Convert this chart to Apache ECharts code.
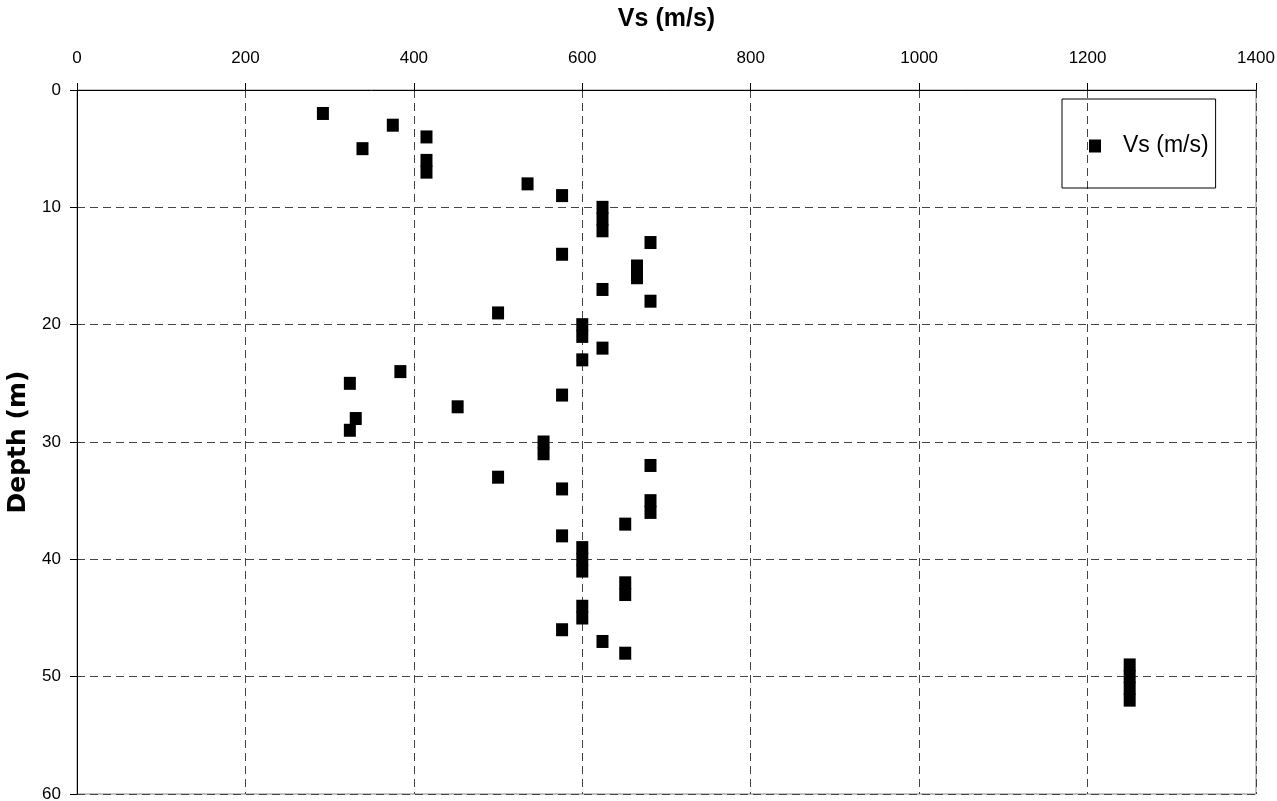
<!DOCTYPE html>
<html>
<head>
<meta charset="utf-8">
<title>Vs profile</title>
<script src="https://cdn.jsdelivr.net/npm/echarts@6/dist/echarts.min.js"></script>
<style>
  html, body { margin: 0; padding: 0; background: #fff; }
  #chart { width: 1277px; height: 801px; }
</style>
</head>
<body>
<div id="chart"></div>
<script>
// depth (m) of each reading
const depth = [2, 3, 4, 5, 6, 7, 8, 9, 10, 11, 12, 13, 14, 15, 16, 17, 18, 19, 20, 21, 22, 23, 24, 25, 26, 27,
  28, 29, 30, 31, 32, 33, 34, 35, 36, 37, 38, 39, 40, 41, 42, 43, 44, 45, 46, 47, 48, 49, 50, 51, 52]
// shear wave velocity (m/s)
const vs = [292, 375, 415, 339, 415, 415, 535, 576, 624, 624, 624, 681, 576, 665, 665, 624, 681, 500, 600, 600, 624, 600, 384, 324, 576, 452,
  331, 324, 554, 554, 681, 500, 576, 681, 681, 651, 576, 600, 600, 600, 651, 651, 600, 600, 576, 624, 651, 1250, 1250, 1250, 1250]
const xTicks = { min: 0, max: 1400, step: 200 }
const yTicks = { min: 0, max: 60, step: 10 }

const points = depth.map((d, i) => [vs[i], d])

const dash = { color: '#444', width: 1, type: [8, 5] }

const option = {
  animation: false,
  backgroundColor: '#fff',
  grid: {
    left: 77,
    top: 90,
    right: 21,
    bottom: 7,
    outerBoundsMode: 'none',
    containLabel: false,
    show: true,
    borderColor: '#888',
    borderWidth: 1
  },
  legend: {
    left: 1062,
    top: 99,
    orient: 'vertical',
    padding: [35, 7, 30, 27],
    borderColor: '#000',
    borderWidth: 1,
    itemWidth: 12,
    itemHeight: 13,
    icon: 'rect',
    textStyle: {
      fontFamily: 'Liberation Sans',
      fontSize: 23,
      color: '#000',
      lineHeight: 24,
      padding: [0, 0, 0, 17]
    },
    data: ['Vs (m/s)']
  },
  xAxis: {
    type: 'value',
    position: 'top',
    min: xTicks.min,
    max: xTicks.max,
    interval: xTicks.step,
    name: 'Vs (m/s)',
    nameLocation: 'middle',
    nameGap: 58,
    nameTextStyle: {
      fontFamily: 'Liberation Sans',
      fontWeight: 'bold',
      fontSize: 25,
      color: '#000'
    },
    axisLine: { show: true, lineStyle: { color: '#000', width: 1 } },
    axisTick: { show: true, length: 7, lineStyle: { color: '#000' } },
    axisLabel: {
      margin: 23,
      fontFamily: 'Liberation Sans',
      fontSize: 17,
      color: '#000',
      formatter: v => String(v)
    },
    splitLine: { show: true, lineStyle: dash }
  },
  yAxis: {
    type: 'value',
    inverse: true,
    min: yTicks.min,
    max: yTicks.max,
    interval: yTicks.step,
    name: 'Depth (m)',
    nameLocation: 'middle',
    nameGap: 45,
    nameTextStyle: {
      fontFamily: 'DejaVu Sans',
      fontWeight: 'bold',
      fontSize: 25,
      color: '#000'
    },
    axisLine: { show: true, lineStyle: { color: '#000', width: 1 } },
    axisTick: { show: true, length: 7, lineStyle: { color: '#000' } },
    axisLabel: {
      margin: 16,
      fontFamily: 'Liberation Sans',
      fontSize: 17,
      color: '#000',
      formatter: v => String(v)
    },
    splitLine: { show: true, lineStyle: dash }
  },
  series: [
    {
      name: 'Vs (m/s)',
      type: 'scatter',
      symbol: 'rect',
      symbolSize: [12, 13],
      itemStyle: { color: '#000', opacity: 1 },
      data: points
    }
  ]
}

const myChart = echarts.init(document.getElementById('chart'))
myChart.setOption(option)
</script>
</body>
</html>
